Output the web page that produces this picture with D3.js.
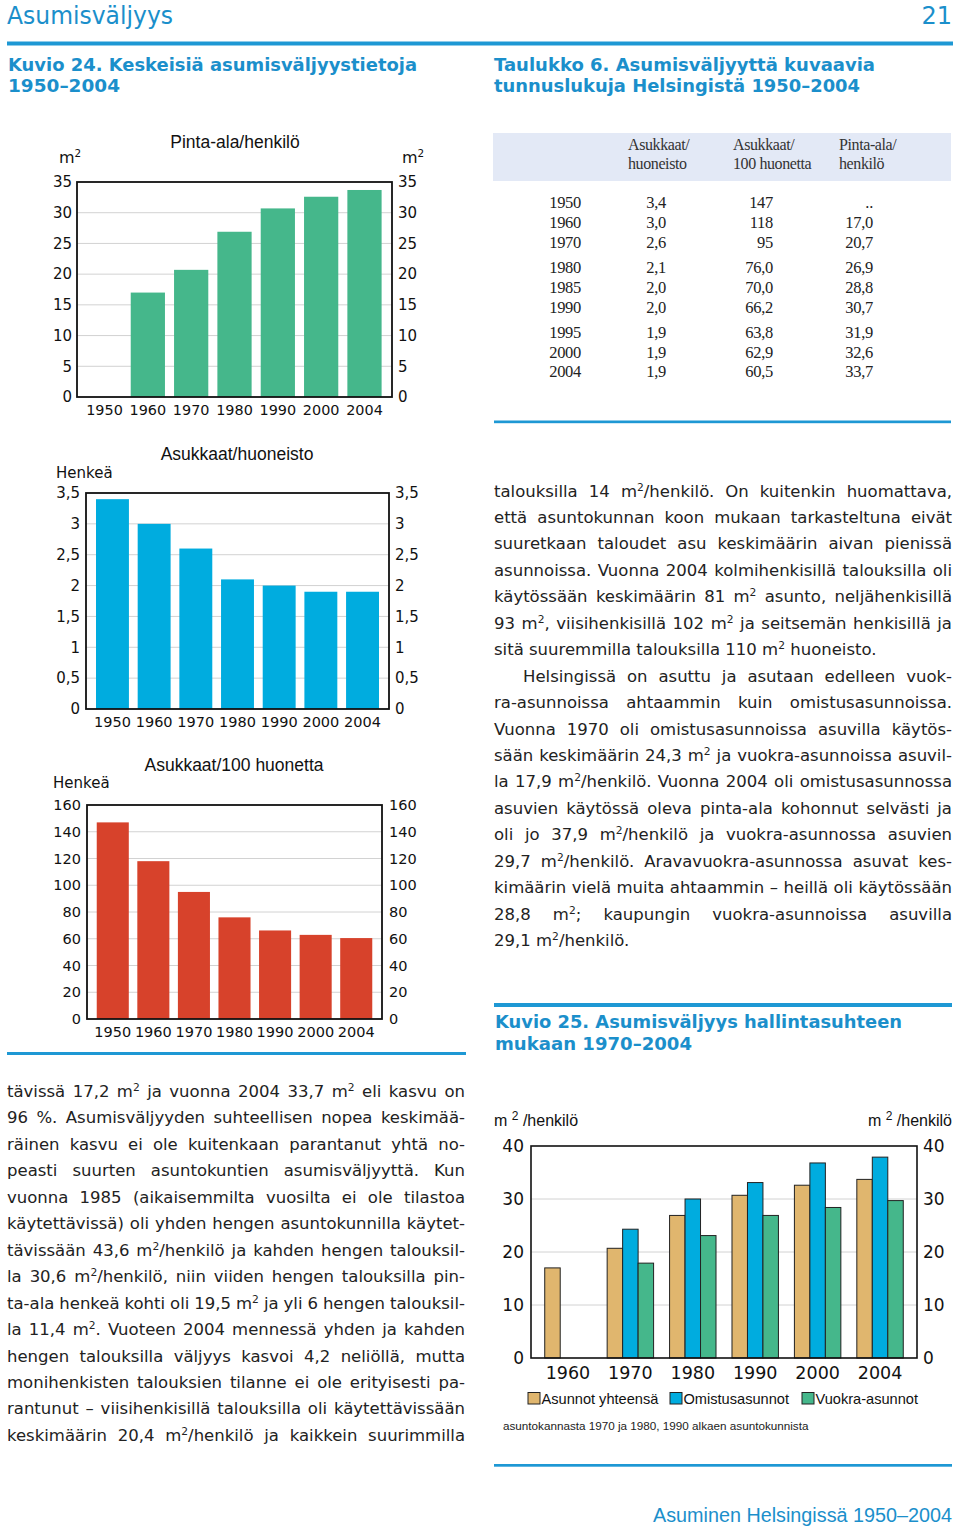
<!DOCTYPE html>
<html>
<head>
<meta charset="utf-8">
<script src="https://cdn.jsdelivr.net/npm/d3@7"></script>
<style>
  body { margin: 0; background: #fff; }
  svg text { font-family: "DejaVu Sans", Verdana, sans-serif; }
</style>
</head>
<body>
<svg id="page" width="960" height="1534"></svg>
<script>
// --- data ---------------------------------------------------------------
var years = ["1950", "1960", "1970", "1980", "1990", "2000", "2004"];
var pintaAla = [null, 17.0, 20.7, 26.9, 30.7, 32.6, 33.7];
var asukkaatHuoneisto = [3.4, 3.0, 2.6, 2.1, 2.0, 1.9, 1.9];
var asukkaat100 = [147, 118, 95, 76.0, 66.2, 62.9, 60.5];
var ticksPinta = [0, 5, 10, 15, 20, 25, 30, 35];
var ticksHuon = [0, 0.5, 1, 1.5, 2, 2.5, 3, 3.5];
var ticks100 = [0, 20, 40, 60, 80, 100, 120, 140, 160];

var tableYears = ["1950", "1960", "1970", "1980", "1985", "1990", "1995", "2000", "2004"];
var tabAsHuon = ["3,4", "3,0", "2,6", "2,1", "2,0", "2,0", "1,9", "1,9", "1,9"];
var tabAs100 = ["147", "118", "95", "76,0", "70,0", "66,2", "63,8", "62,9", "60,5"];
var tabPinta = ["..", "17,0", "20,7", "26,9", "28,8", "30,7", "31,9", "32,6", "33,7"];

var k25Years = ["1960", "1970", "1980", "1990", "2000", "2004"];
var k25Series = ["Asunnot yhteensä", "Omistusasunnot", "Vuokra-asunnot"];
var k25Total = [17.0, 20.7, 26.9, 30.7, 32.6, 33.7];
var k25Owner = [null, 24.3, 30.0, 33.1, 36.8, 37.9];
var k25Rent = [null, 17.9, 23.1, 26.9, 28.4, 29.7];
var k25Ticks = [0, 10, 20, 30, 40];

var rightText = [
  "talouksilla 14 m²/henkilö. On kuitenkin huomattava,",
  "että asuntokunnan koon mukaan tarkasteltuna eivät",
  "suuretkaan taloudet asu keskimäärin aivan pienissä",
  "asunnoissa. Vuonna 2004 kolmihenkisillä talouksilla oli",
  "käytössään keskimäärin 81 m² asunto, neljähenkisillä",
  "93 m², viisihenkisillä 102 m² ja seitsemän henkisillä ja",
  "sitä suuremmilla talouksilla 110 m² huoneisto.",
  "Helsingissä on asuttu ja asutaan edelleen vuok-",
  "ra-asunnoissa ahtaammin kuin omistusasunnoissa.",
  "Vuonna 1970 oli omistusasunnoissa asuvilla käytös-",
  "sään keskimäärin 24,3 m² ja vuokra-asunnoissa asuvil-",
  "la 17,9 m²/henkilö. Vuonna 2004 oli omistusasunnossa",
  "asuvien käytössä oleva pinta-ala kohonnut selvästi ja",
  "oli jo 37,9 m²/henkilö ja vuokra-asunnossa asuvien",
  "29,7 m²/henkilö. Aravavuokra-asunnossa asuvat kes-",
  "kimäärin vielä muita ahtaammin – heillä oli käytössään",
  "28,8 m²; kaupungin vuokra-asunnoissa asuvilla",
  "29,1 m²/henkilö."
];
var rightLast = [6, 17];
var rightIndent = [7];

var leftText = [
  "tävissä 17,2 m² ja vuonna 2004 33,7 m² eli kasvu on",
  "96 %. Asumisväljyyden suhteellisen nopea keskimää-",
  "räinen kasvu ei ole kuitenkaan parantanut yhtä no-",
  "peasti suurten asuntokuntien asumisväljyyttä. Kun",
  "vuonna 1985 (aikaisemmilta vuosilta ei ole tilastoa",
  "käytettävissä) oli yhden hengen asuntokunnilla käytet-",
  "tävissään 43,6 m²/henkilö ja kahden hengen talouksil-",
  "la 30,6 m²/henkilö, niin viiden hengen talouksilla pin-",
  "ta-ala henkeä kohti oli 19,5 m² ja yli 6 hengen talouksil-",
  "la 11,4 m². Vuoteen 2004 mennessä yhden ja kahden",
  "hengen talouksilla väljyys kasvoi 4,2 neliöllä, mutta",
  "monihenkisten talouksien tilanne ei ole erityisesti pa-",
  "rantunut – viisihenkisillä talouksilla oli käytettävissään",
  "keskimäärin 20,4 m²/henkilö ja kaikkein suurimmilla"
];

// --- page ---------------------------------------------------------------
var svg = d3.select("#page");
var blue = "#1b8fcb", rule = "#1e98d4";
var comma = function(d) { return String(d).replace(".", ","); };

svg.append("rect").attr("width", 960).attr("height", 1534).attr("fill", "#fff");

// text with superscript "2" after m
function rich(t, s) {
  var parts = s.split("²");
  parts.forEach(function(p, i) {
    if (i > 0) {
      t.append("tspan").attr("dy", -6).attr("font-size", "0.65em").text("2");
      t.append("tspan").attr("dy", 6).text(p);
    } else {
      t.append("tspan").text(p);
    }
  });
  return t;
}

function heading(x, y, s, w, size, weight) {
  svg.append("text").attr("x", x).attr("y", y).attr("fill", blue)
    .attr("font-size", size).attr("font-weight", weight || "bold")
    .attr("textLength", w).attr("lengthAdjust", "spacingAndGlyphs").text(s);
}

// page header
heading(7, 24, "Asumisväljyys", 166, 24, "normal");
svg.append("text").attr("x", 952).attr("y", 24).attr("text-anchor", "end")
  .attr("fill", blue).attr("font-size", 24).text("21");
svg.append("rect").attr("x", 7).attr("y", 41.5).attr("width", 946).attr("height", 4).attr("fill", rule);

heading(8, 70.5, "Kuvio 24.  Keskeisiä asumisväljyystietoja", 409, 17);
heading(8, 92, "1950–2004", 112, 17);
heading(494, 70.5, "Taulukko 6.  Asumisväljyyttä kuvaavia", 381, 17);
heading(494, 92, "tunnuslukuja Helsingistä 1950–2004", 366, 17);

// --- bar chart helper -------------------------------------------------------
function barChart(o) {
  var g = svg.append("g");
  var x = d3.scaleBand().domain(years).range([o.x0, o.x1]).paddingInner(0.21).paddingOuter(0.24);
  var y = d3.scaleLinear().domain([0, o.max]).range([o.y1, o.y0]);

  g.selectAll("line.grid").data(o.ticks.slice(1, -1)).join("line")
    .attr("x1", o.x0).attr("x2", o.x1)
    .attr("y1", function(d) { return y(d); }).attr("y2", function(d) { return y(d); })
    .attr("stroke", "#d2d2d2").attr("stroke-width", 1);

  var bars = years.map(function(yr, i) { return { yr: yr, v: o.values[i] }; })
    .filter(function(d) { return d.v != null; });
  g.selectAll("rect.bar").data(bars).join("rect")
    .attr("x", function(d) { return x(d.yr); })
    .attr("width", x.bandwidth())
    .attr("y", function(d) { return y(d.v); })
    .attr("height", function(d) { return o.y1 - y(d.v); })
    .attr("fill", o.color);

  g.append("rect").attr("x", o.x0).attr("y", o.y0)
    .attr("width", o.x1 - o.x0).attr("height", o.y1 - o.y0)
    .attr("fill", "none").attr("stroke", "#111").attr("stroke-width", 1.8);

  var left = g.append("g").attr("transform", "translate(" + (o.x0 - o.padL) + ",0)")
    .call(d3.axisLeft(y).tickValues(o.ticks).tickSize(0).tickPadding(0).tickFormat(o.fmt));
  var right = g.append("g").attr("transform", "translate(" + (o.x1 + o.padR) + ",0)")
    .call(d3.axisRight(y).tickValues(o.ticks).tickSize(0).tickPadding(0).tickFormat(o.fmt));
  var bottom = g.append("g").attr("transform", "translate(0," + o.y1 + ")")
    .call(d3.axisBottom(x).tickSize(0).tickPadding(0));
  [left, right, bottom].forEach(function(a) {
    a.select(".domain").remove();
    a.attr("font-family", null).attr("font-size", null);
    a.selectAll("text").attr("fill", "#111").attr("font-size", o.fs);
  });
  bottom.selectAll("text").attr("dy", null).attr("y", o.xLabelDy).attr("font-size", o.xfs);

  g.append("text").attr("x", o.titleX).attr("y", o.titleY).attr("text-anchor", "middle")
    .style("font-family", "'Liberation Sans', Arial, sans-serif").attr("font-size", 17.5)
    .attr("fill", "#111").text(o.title);
  return g;
}

// Kuvio 24 charts
barChart({
  values: pintaAla, ticks: ticksPinta, max: 35, fmt: comma, color: "#45b78b",
  x0: 77, x1: 392, y0: 182, y1: 397, padL: 5, padR: 6, fs: 15, xfs: 14.4, xLabelDy: 18,
  title: "Pinta-ala/henkilö", titleX: 235, titleY: 148
});
rich(svg.append("text").attr("x", 59).attr("y", 163).attr("font-size", 16).attr("fill", "#111"), "m²");
rich(svg.append("text").attr("x", 402).attr("y", 163).attr("font-size", 16).attr("fill", "#111"), "m²");

barChart({
  values: asukkaatHuoneisto, ticks: ticksHuon, max: 3.5, fmt: comma, color: "#00acdf",
  x0: 86, x1: 389, y0: 493, y1: 709, padL: 6, padR: 6, fs: 15, xfs: 14.5, xLabelDy: 18,
  title: "Asukkaat/huoneisto", titleX: 237, titleY: 460
});
svg.append("text").attr("x", 56).attr("y", 478).attr("font-size", 15).attr("fill", "#111").text("Henkeä");

barChart({
  values: asukkaat100, ticks: ticks100, max: 160, fmt: comma, color: "#d7422b",
  x0: 87, x1: 382, y0: 805, y1: 1019, padL: 6, padR: 7, fs: 14.5, xfs: 14.5, xLabelDy: 17.5,
  title: "Asukkaat/100 huonetta", titleX: 234, titleY: 771
});
svg.append("text").attr("x", 53).attr("y", 788).attr("font-size", 15).attr("fill", "#111").text("Henkeä");

svg.append("rect").attr("x", 7).attr("y", 1052).attr("width", 459).attr("height", 3).attr("fill", rule);

// --- Taulukko 6 -------------------------------------------------------------
var serif = "'Liberation Serif', 'Times New Roman', serif";
svg.append("rect").attr("x", 493).attr("y", 133).attr("width", 458).attr("height", 48).attr("fill", "#e3e9f6");
var heads = [["Asukkaat/", "huoneisto", 628], ["Asukkaat/", "100 huonetta", 733], ["Pinta-ala/", "henkilö", 839]];
heads.forEach(function(h) {
  [0, 1].forEach(function(k) {
    svg.append("text").attr("x", h[2]).attr("y", k ? 169 : 150).style("font-family", serif)
      .attr("font-size", 16).attr("letter-spacing", -0.4).attr("fill", "#333").text(h[k]);
  });
});
var rowY = function(i) { return 208 + i * 19.8 + Math.floor(i / 3) * 5.5; };
var cols = [[tableYears, 581], [tabAsHuon, 666], [tabAs100, 773], [tabPinta, 873]];
cols.forEach(function(c) {
  svg.append("g").selectAll("text").data(c[0]).join("text")
    .attr("x", c[1]).attr("y", function(d, i) { return rowY(i); })
    .attr("text-anchor", "end").style("font-family", serif).attr("font-size", 16.5)
    .attr("letter-spacing", -0.3).attr("fill", "#222").text(function(d) { return d; });
});
svg.append("rect").attr("x", 494).attr("y", 420.5).attr("width", 457).attr("height", 2.7).attr("fill", rule);

// --- body text ---------------------------------------------------------------
function paragraph(x0, y0, width, lines, lastIdx, indentIdx) {
  lines.forEach(function(s, i) {
    var ind = indentIdx && indentIdx.indexOf(i) >= 0 ? 29 : 0;
    var t = svg.append("text").attr("x", x0 + ind).attr("y", y0 + i * 26.45)
      .attr("font-size", 16.5).attr("fill", "#222");
    rich(t, s);
    if (lastIdx.indexOf(i) < 0) {
      var len = t.node().getComputedTextLength();
      var n = (s.match(/ /g) || []).length;
      if (n) t.style("word-spacing", ((width - ind - len) / n) + "px");
    }
  });
}
paragraph(494, 496.5, 458, rightText, rightLast, rightIndent);
paragraph(7, 1097, 458, leftText, []);

// --- Kuvio 25 -----------------------------------------------------------------
svg.append("rect").attr("x", 494).attr("y", 1003).attr("width", 458).attr("height", 4).attr("fill", rule);
heading(495, 1028, "Kuvio 25.  Asumisväljyys hallintasuhteen", 407, 17);
heading(495, 1050, "mukaan 1970–2004", 197, 17);

(function() {
  var x0 = 531, x1 = 917, y0 = 1146, y1 = 1358;
  var colors = ["#e0b66e", "#00acdf", "#45b78b"];
  var series = [k25Total, k25Owner, k25Rent];
  var g = svg.append("g");
  var x = d3.scaleBand().domain(k25Years).range([x0, x1]).paddingInner(0.256).paddingOuter(0.22);
  var xs = d3.scaleBand().domain(k25Series).range([0, x.bandwidth()]);
  var y = d3.scaleLinear().domain([0, 40]).range([y1, y0]);

  g.selectAll("line.grid").data(k25Ticks.slice(1, -1)).join("line")
    .attr("x1", x0).attr("x2", x1)
    .attr("y1", function(d) { return y(d); }).attr("y2", function(d) { return y(d); })
    .attr("stroke", "#d2d2d2");

  var bars = [];
  k25Years.forEach(function(yr, i) {
    series.forEach(function(s, j) {
      if (s[i] != null) bars.push({ yr: yr, k: k25Series[j], v: s[i], c: colors[j] });
    });
  });
  g.selectAll("rect.bar").data(bars).join("rect")
    .attr("x", function(d) { return x(d.yr) + xs(d.k); })
    .attr("width", xs.bandwidth())
    .attr("y", function(d) { return y(d.v); })
    .attr("height", function(d) { return y1 - y(d.v); })
    .attr("fill", function(d) { return d.c; })
    .attr("stroke", "#222").attr("stroke-width", 1);

  g.append("rect").attr("x", x0).attr("y", y0).attr("width", x1 - x0).attr("height", y1 - y0)
    .attr("fill", "none").attr("stroke", "#111").attr("stroke-width", 1.6);

  var left = g.append("g").attr("transform", "translate(" + (x0 - 7) + ",0)")
    .call(d3.axisLeft(y).tickValues(k25Ticks).tickSize(0).tickPadding(0));
  var right = g.append("g").attr("transform", "translate(" + (x1 + 6) + ",0)")
    .call(d3.axisRight(y).tickValues(k25Ticks).tickSize(0).tickPadding(0));
  var bottom = g.append("g").attr("transform", "translate(0," + y1 + ")")
    .call(d3.axisBottom(x).tickSize(0).tickPadding(0));
  [left, right, bottom].forEach(function(a) {
    a.select(".domain").remove();
    a.attr("font-family", null).attr("font-size", null);
    a.selectAll("text").attr("fill", "#111").attr("font-size", 17);
  });
  bottom.selectAll("text").attr("dy", null).attr("y", 20.5).attr("font-size", 17.5);

  var sans = "'Liberation Sans', Arial, sans-serif";
  [[494, "start"], [952, "end"]].forEach(function(p) {
    var t = g.append("text").attr("x", p[0]).attr("y", 1126).attr("text-anchor", p[1])
      .style("font-family", sans).attr("font-size", 16).attr("fill", "#111");
    t.append("tspan").text("m ");
    t.append("tspan").attr("dy", -6).attr("font-size", 12).text("2");
    t.append("tspan").attr("dy", 6).text(" /henkilö");
  });

  var lx = [528, 670, 802];
  var lg = g.selectAll("g.leg").data(k25Series).join("g")
    .attr("transform", function(d, i) { return "translate(" + lx[i] + ",1392.5)"; });
  lg.append("rect").attr("width", 12).attr("height", 11.5)
    .attr("fill", function(d, i) { return colors[i]; }).attr("stroke", "#222").attr("stroke-width", 1);
  lg.append("text").attr("x", 13.5).attr("y", 11).style("font-family", sans)
    .attr("font-size", 14.6).attr("fill", "#111").text(function(d) { return d; });

  g.append("text").attr("x", 503).attr("y", 1430).style("font-family", sans)
    .attr("font-size", 11.7).attr("fill", "#222")
    .text("asuntokannasta 1970 ja 1980, 1990 alkaen asuntokunnista");
})();

// footer
svg.append("rect").attr("x", 494).attr("y", 1464).attr("width", 458).attr("height", 2.7).attr("fill", rule);
svg.append("text").attr("x", 653).attr("y", 1521.5)
  .style("font-family", "'Liberation Sans', Arial, sans-serif").attr("font-size", 20)
  .attr("fill", blue).attr("textLength", 299).attr("lengthAdjust", "spacingAndGlyphs")
  .text("Asuminen Helsingissä 1950–2004");
</script>
</body>
</html>
